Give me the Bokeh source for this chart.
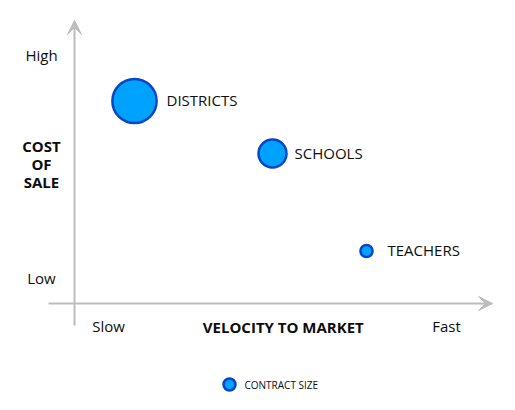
from bokeh.plotting import figure
from bokeh.models import Range1d, Arrow, VeeHead, ColumnDataSource, Label
from bokeh.embed import file_html
from bokeh.resources import INLINE
import numpy as np

# Segments plotted on the velocity/cost plane
segments = ["DISTRICTS", "SCHOOLS", "TEACHERS"]
velocity = [1.5, 4.95, 7.3]        # slow -> fast (0..10)
cost = [8.1, 6.0, 2.1]             # low -> high (0..10)
contract_size = [10.0, 4.0, 0.75]  # relative contract value

x_labels = ["Slow", "Fast"]
y_labels = ["Low", "High"]

W, H = 515, 410
X_PX, Y_PX = 40.0, 25.0      # pixels per unit
ORIGIN = (74, 303)           # axis origin in canvas pixels (from top-left)

x0 = -ORIGIN[0] / X_PX
x1 = (W - ORIGIN[0]) / X_PX
y0 = -(H - ORIGIN[1]) / Y_PX
y1 = ORIGIN[1] / Y_PX

p = figure(width=W, height=H, output_backend="svg", toolbar_location=None,
           x_range=Range1d(x0, x1), y_range=Range1d(y0, y1),
           min_border=0, outline_line_color=None)
p.axis.visible = False
p.grid.visible = False
p.background_fill_color = "white"
p.border_fill_color = "white"

FONT = "Open Sans"
AXIS_GREY = "#bdbdbd"
TEXT = "#0d0d0d"

# Axes with arrow heads
p.add_layout(Arrow(end=VeeHead(size=14, fill_color=AXIS_GREY, line_color=AXIS_GREY),
                   x_start=0, y_start=-0.88, x_end=0, y_end=11.32,
                   line_color=AXIS_GREY, line_width=2))
p.add_layout(Arrow(end=VeeHead(size=14, fill_color=AXIS_GREY, line_color=AXIS_GREY),
                   x_start=-0.65, y_start=0, x_end=10.45, y_end=0,
                   line_color=AXIS_GREY, line_width=2))

# Bubbles: area proportional to contract size
diam = [14.0 * np.sqrt(v) for v in contract_size]
src = ColumnDataSource(dict(x=velocity, y=cost, size=diam, name=segments))
p.scatter("x", "y", size="size", source=src, fill_color="#00a2ff",
          line_color="#0a45c8", line_width=2.5)

# Bubble labels
label_gap = [32, 22, 21]
for xv, yv, name, g in zip(velocity, cost, segments, label_gap):
    p.add_layout(Label(x=xv, y=yv, x_offset=g, y_offset=1, text=name, text_font=FONT,
                       text_font_size="15px", text_color=TEXT,
                       text_baseline="middle", text_align="left"))

# Axis end labels
def end_label(x, y, txt):
    p.add_layout(Label(x=x, y=y, text=txt, text_font=FONT, text_font_size="15px",
                       text_color=TEXT, text_align="center", text_baseline="middle"))

end_label(-0.825, 9.96, y_labels[1])
end_label(-0.825, 1.04, y_labels[0])
end_label(0.85, -0.88, x_labels[0])
end_label(9.3, -0.88, x_labels[1])

# Axis titles
for i, word in enumerate(["COST", "OF", "SALE"]):
    p.add_layout(Label(x=-0.825, y=6.3 - i * 0.72, text=word, text_font=FONT,
                       text_font_size="15px", text_font_style="bold", text_color=TEXT,
                       text_align="center", text_baseline="middle"))
p.add_layout(Label(x=5.22, y=-0.92, text="VELOCITY TO MARKET", text_font=FONT,
                   text_font_size="15px", text_font_style="bold", text_color=TEXT,
                   text_align="center", text_baseline="middle"))

# Legend for bubble size
p.scatter([3.875], [-3.24], size=12, fill_color="#00a2ff", line_color="#0a45c8", line_width=2.5)
p.add_layout(Label(x=4.25, y=-3.24, text="CONTRACT SIZE", text_font=FONT, text_font_size="10px",
                   text_color=TEXT, text_align="left", text_baseline="middle"))

open("out.html", "w").write(file_html(p, INLINE))
